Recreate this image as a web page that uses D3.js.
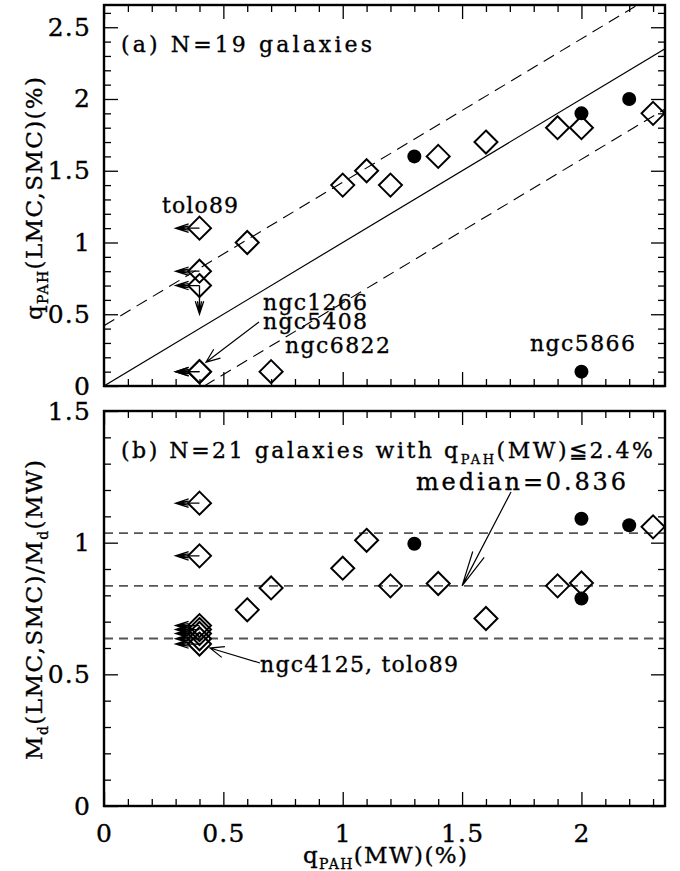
<!DOCTYPE html>
<html>
<head>
<meta charset="utf-8">
<script src="https://cdn.jsdelivr.net/npm/d3@7"></script>
<style>
  body { margin: 0; background: #fff; }
  svg { display: block; }
  text { font-family: "DejaVu Serif", serif; fill: #000; stroke: #000; stroke-width: 0.35px; }
</style>
</head>
<body>
<svg id="chart" width="680" height="871"></svg>
<script>
// ---------- data ----------
// Panel (a): q_PAH from LMC/SMC dust models vs q_PAH from MW models (%)
const aOpenQMW   = [0.4, 0.4, 0.4, 0.4, 0.4, 0.6, 0.7, 1.0, 1.1, 1.2, 1.4, 1.6, 1.9, 2.0, 2.3];
const aOpenQLS   = [1.1, 0.8, 0.7, 0.1, 0.1, 1.0, 0.1, 1.4, 1.5, 1.4, 1.6, 1.7, 1.8, 1.8, 1.9];
const aOpenXLim  = [1, 1, 1, 1, 1, 0, 0, 0, 0, 0, 0, 0, 0, 0, 0];   // upper limit on q_PAH(MW)
const aOpenYLim  = [0, 0, 1, 0, 0, 0, 0, 0, 0, 0, 0, 0, 0, 0, 0];   // upper limit on q_PAH(LMC,SMC)
const aFilledQMW = [1.3, 2.0, 2.2, 2.0];
const aFilledQLS = [1.6, 1.9, 2.0, 0.1];
const aOffset    = 0.42;   // half-width of the dashed band around the 1:1 line

// Panel (b): dust-mass ratio M_d(LMC,SMC)/M_d(MW)
const bOpenQMW   = [0.4, 0.4, 0.4, 0.4, 0.4, 0.4, 0.4, 0.6, 0.7, 1.0, 1.1, 1.2, 1.4, 1.6, 1.9, 2.0, 2.3];
const bOpenRatio = [1.15, 0.95, 0.685, 0.67, 0.655, 0.635, 0.615, 0.745, 0.828, 0.903, 1.009, 0.836, 0.845, 0.712, 0.836, 0.847, 1.06];
const bOpenXLim  = [1, 1, 1, 1, 1, 1, 1, 0, 0, 0, 0, 0, 0, 0, 0, 0, 0];
const bFilledQMW   = [1.3, 2.0, 2.0, 2.2];
const bFilledRatio = [0.996, 1.091, 0.788, 1.066];
const bMedian = 0.836;
const bSpread = 0.2;

// tick labels
const xTickLabels  = ["0", "0.5", "1", "1.5", "2"];
const yATickLabels = ["0", "0.5", "1", "1.5", "2", "2.5"];
const yBTickLabels = ["0", "0.5", "1", "1.5"];

// ---------- layout ----------
const svg = d3.select("#chart");
svg.append("rect").attr("width", 680).attr("height", 871).attr("fill", "#fff");

const L = 104, R = 665;
const aTop = 5, aBot = 386;
const bTop = 411, bBot = 806;

const x  = d3.scaleLinear().domain([0, 2.35]).range([L, R]);
const yA = d3.scaleLinear().domain([0, 2.655]).range([aBot, aTop]);
const yB = d3.scaleLinear().domain([0, 1.5]).range([bBot, bTop]);

const xMajor = xTickLabels.map(Number);
const xMinor = d3.range(1, 24).filter(i => i % 5 !== 0).map(i => i / 10);
const yAMajor = yATickLabels.map(Number);
const yAMinor = d3.range(1, 27).filter(i => i % 5 !== 0).map(i => i / 10);
const yBMajor = yBTickLabels.map(Number);
const yBMinor = d3.range(1, 15).filter(i => i % 5 !== 0).map(i => i / 10);

const MAJ = 14, MIN = 7;

function styleAxis(g) {
  g.select(".domain").remove();
  g.selectAll(".tick line").attr("stroke", "#000").attr("stroke-width", 1.3);
  g.selectAll(".tick text")
    .style("font-size", "25px")
    .style("font-family", '"DejaVu Serif", serif')
    .style("letter-spacing", "1.2px")
    .attr("fill", "#000");
}

function drawFrame(top, bot, yScale, yMajor, yMinor, yLabels, withXLabels) {
  const g = svg.append("g");
  // x ticks: bottom and top edges, pointing inward
  const fmtX = d => xTickLabels[xMajor.indexOf(d)];
  g.append("g").attr("transform", `translate(0,${bot})`)
    .call(d3.axisBottom(x).tickValues(xMajor).tickSizeInner(-MAJ).tickSizeOuter(0)
      .tickPadding(18).tickFormat(withXLabels ? fmtX : () => ""))
    .call(styleAxis);
  g.append("g").attr("transform", `translate(0,${bot})`)
    .call(d3.axisBottom(x).tickValues(xMinor).tickSizeInner(-MIN).tickSizeOuter(0).tickFormat(() => ""))
    .call(styleAxis);
  g.append("g").attr("transform", `translate(0,${top})`)
    .call(d3.axisTop(x).tickValues(xMajor).tickSizeInner(-MAJ).tickSizeOuter(0).tickFormat(() => ""))
    .call(styleAxis);
  g.append("g").attr("transform", `translate(0,${top})`)
    .call(d3.axisTop(x).tickValues(xMinor).tickSizeInner(-MIN).tickSizeOuter(0).tickFormat(() => ""))
    .call(styleAxis);
  // y ticks: left (labelled) and right
  g.append("g").attr("transform", `translate(${L},0)`)
    .call(d3.axisLeft(yScale).tickValues(yMajor).tickSizeInner(-MAJ).tickSizeOuter(0)
      .tickPadding(13).tickFormat(d => yLabels[yMajor.indexOf(d)]))
    .call(styleAxis);
  g.append("g").attr("transform", `translate(${L},0)`)
    .call(d3.axisLeft(yScale).tickValues(yMinor).tickSizeInner(-MIN).tickSizeOuter(0).tickFormat(() => ""))
    .call(styleAxis);
  g.append("g").attr("transform", `translate(${R},0)`)
    .call(d3.axisRight(yScale).tickValues(yMajor).tickSizeInner(-MAJ).tickSizeOuter(0).tickFormat(() => ""))
    .call(styleAxis);
  g.append("g").attr("transform", `translate(${R},0)`)
    .call(d3.axisRight(yScale).tickValues(yMinor).tickSizeInner(-MIN).tickSizeOuter(0).tickFormat(() => ""))
    .call(styleAxis);
  // frame
  g.append("rect").attr("x", L).attr("y", top).attr("width", R - L).attr("height", bot - top)
    .attr("fill", "none").attr("stroke", "#000").attr("stroke-width", 2.4);
}

// clip paths for the reference lines
const defs = svg.append("defs");
defs.append("clipPath").attr("id", "clipA").append("rect")
  .attr("x", L).attr("y", aTop).attr("width", R - L).attr("height", aBot - aTop);
defs.append("clipPath").attr("id", "clipB").append("rect")
  .attr("x", L).attr("y", bTop).attr("width", R - L).attr("height", bBot - bTop);

// ---------- marker helpers ----------
const DS = 11.5;   // diamond half-diagonal
function diamond(g, px, py) {
  g.append("path")
    .attr("d", `M${px},${py - DS}L${px + DS},${py}L${px},${py + DS}L${px - DS},${py}Z`)
    .attr("fill", "none").attr("stroke", "#000").attr("stroke-width", 2);
}
function dot(g, px, py) {
  g.append("circle").attr("cx", px).attr("cy", py).attr("r", 7).attr("fill", "#000");
}
// limit arrow: shaft of length len from (px,py) in direction (ux,uy), narrow head
function limitArrow(g, px, py, ux, uy, len) {
  const tx = px + ux * len, ty = py + uy * len;
  const hl = 13, hw = 4.2, hw2 = 2;
  const bx = tx - ux * hl, by = ty - uy * hl;
  const nx = -uy, ny = ux;
  const d = `M${px},${py}L${tx},${ty}` +
    `M${bx + nx * hw},${by + ny * hw}L${tx},${ty}L${bx - nx * hw},${by - ny * hw}` +
    `M${bx + nx * hw2},${by + ny * hw2}L${tx},${ty}L${bx - nx * hw2},${by - ny * hw2}`;
  g.append("path").attr("d", d).attr("fill", "none").attr("stroke", "#000").attr("stroke-width", 1.3);
}
// annotation arrow with open head at the tip
function pointer(g, sx, sy, tx, ty, hl, ang) {
  const a = Math.atan2(sy - ty, sx - tx);
  const p1 = [tx + hl * Math.cos(a + ang), ty + hl * Math.sin(a + ang)];
  const p2 = [tx + hl * Math.cos(a - ang), ty + hl * Math.sin(a - ang)];
  g.append("path")
    .attr("d", `M${sx},${sy}L${tx},${ty}M${p1[0]},${p1[1]}L${tx},${ty}L${p2[0]},${p2[1]}`)
    .attr("fill", "none").attr("stroke", "#000").attr("stroke-width", 1.2);
}
// text with optional subscript pieces
function richText(parent, px, py, parts, size, len, rotate) {
  const subSize = Math.round(size * 0.6), subShift = Math.round(size * 0.27);
  const t = parent.append("text").style("font-size", size + "px");
  if (rotate) t.attr("transform", "rotate(-90)").attr("x", -py).attr("y", px);
  else t.attr("x", px).attr("y", py);
  let shift = 0;
  parts.forEach(p => {
    const target = p.sub ? subShift : 0;
    const ts = t.append("tspan").text(p.t).attr("dy", target - shift);
    if (p.sub) ts.style("font-size", subSize + "px");
    shift = target;
  });
  if (len) t.attr("textLength", len).attr("lengthAdjust", "spacing");
  return t;
}

// ---------- panel (a) ----------
const gA = svg.append("g");
const gALines = gA.append("g").attr("clip-path", "url(#clipA)");
const lineA = d3.line().x(d => x(d[0])).y(d => yA(d[1]));
gALines.append("path").attr("d", lineA([[0, 0], [2.35, 2.35]]))
  .attr("fill", "none").attr("stroke", "#000").attr("stroke-width", 1.2);
gALines.append("path").attr("d", lineA([[0, aOffset], [2.35, 2.35 + aOffset]]))
  .attr("fill", "none").attr("stroke", "#000").attr("stroke-width", 1.1).attr("stroke-dasharray", "12,7");
gALines.append("path").attr("d", lineA([[aOffset, 0], [2.35, 2.35 - aOffset]]))
  .attr("fill", "none").attr("stroke", "#000").attr("stroke-width", 1.1).attr("stroke-dasharray", "12,7");

aOpenQMW.forEach((q, i) => {
  const px = x(q), py = yA(aOpenQLS[i]);
  if (aOpenXLim[i]) limitArrow(gA, px, py, -1, 0, x(0.1) - x(0));
  if (aOpenYLim[i]) limitArrow(gA, px, py, 0, 1, yA(0) - yA(0.2));
  diamond(gA, px, py);
});
aFilledQMW.forEach((q, i) => dot(gA, x(q), yA(aFilledQLS[i])));

drawFrame(aTop, aBot, yA, yAMajor, yAMinor, yATickLabels, false);

richText(gA, 121, 52, [{ t: "(a) N=19 galaxies" }], 22, 251);
richText(gA, 162, 213, [{ t: "tolo89" }], 22, 76);
richText(gA, 263, 310, [{ t: "ngc1266" }], 22, 104);
richText(gA, 263, 329, [{ t: "ngc5408" }], 22, 104);
richText(gA, 285, 353, [{ t: "ngc6822" }], 22, 105);
richText(gA, 530, 351, [{ t: "ngc5866" }], 22, 105);
pointer(gA, 259, 322, x(0.4) + 6.5, yA(0.1) - 9.5, 15, 0.38);

// ---------- panel (b) ----------
const gB = svg.append("g");
const gBLines = gB.append("g").attr("clip-path", "url(#clipB)");
[bMedian + bSpread, bMedian, bMedian - bSpread].forEach(v => {
  gBLines.append("line").attr("x1", x(0)).attr("x2", x(2.35)).attr("y1", yB(v)).attr("y2", yB(v))
    .attr("stroke", "#555").attr("stroke-width", 1.8).attr("stroke-dasharray", "9,6");
});

bOpenQMW.forEach((q, i) => {
  const px = x(q), py = yB(bOpenRatio[i]);
  if (bOpenXLim[i]) limitArrow(gB, px, py, -1, 0, x(0.1) - x(0));
  diamond(gB, px, py);
});
bFilledQMW.forEach((q, i) => dot(gB, x(q), yB(bFilledRatio[i])));

drawFrame(bTop, bBot, yB, yBMajor, yBMinor, yBTickLabels, true);

richText(gB, 121, 458, [{ t: "(b) N=21 galaxies with q" }, { t: "PAH", sub: true }, { t: "(MW)\u22662.4%" }], 22, 532);
richText(gB, 416, 490, [{ t: "median=0.836" }], 24, 210);
pointer(gB, 511, 492, x(1.5), yB(bMedian), 36, 0.18);
richText(gB, 260, 672, [{ t: "ngc4125, tolo89" }], 22, 198);
pointer(gB, 260, 663, x(0.4) + 10.5, yB(0.615) + 4, 15, 0.38);

// ---------- axis titles ----------
richText(svg, 303, 863, [{ t: "q" }, { t: "PAH", sub: true }, { t: "(MW)(%)" }], 23, 164);
richText(svg, 42, 320, [{ t: "q" }, { t: "PAH", sub: true }, { t: "(LMC,SMC)(%)" }], 23, 243, true);
richText(svg, 42, 760, [{ t: "M" }, { t: "d", sub: true }, { t: "(LMC,SMC)/M" }, { t: "d", sub: true }, { t: "(MW)" }], 23, 300, true);
</script>
</body>
</html>
